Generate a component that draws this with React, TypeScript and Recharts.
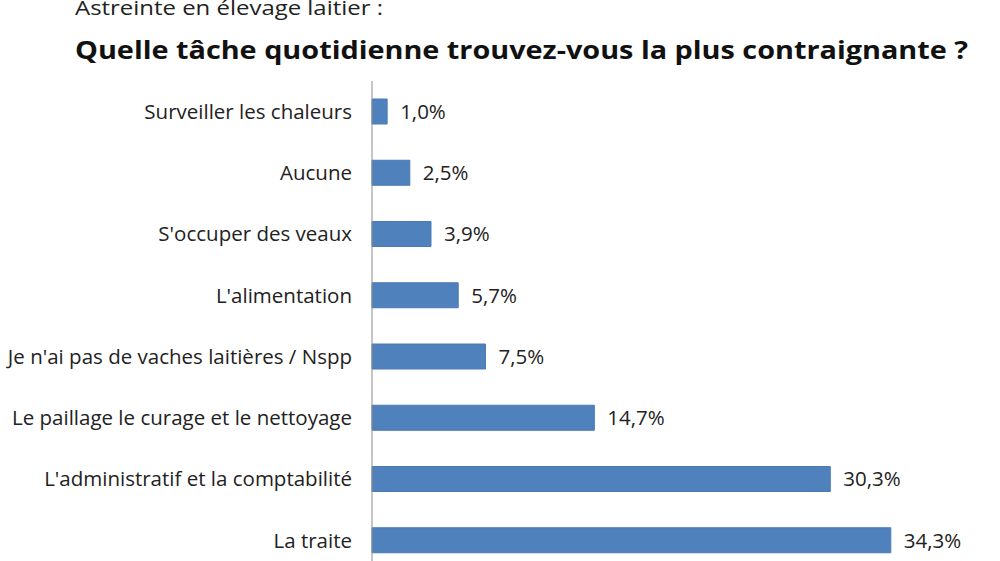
import React from "react";
import { BarChart, Bar, XAxis, YAxis, LabelList } from "recharts";

const categories = [
  "Surveiller les chaleurs",
  "Aucune",
  "S'occuper des veaux",
  "L'alimentation",
  "Je n'ai pas de vaches laitières / Nspp",
  "Le paillage le curage et le nettoyage",
  "L'administratif et la comptabilité",
  "La traite",
];
const shares = [1.0, 2.5, 3.9, 5.7, 7.5, 14.7, 30.3, 34.3];

const data = categories.map((name, i) => ({ name, value: shares[i] }));

const FONT = "Open Sans, 'Noto Sans', sans-serif";

const fmt = (v: number) => v.toFixed(1).replace(".", ",") + "%";

export default function App() {
  return (
    <div
      style={{
        position: "absolute",
        left: 0,
        top: 0,
        width: 1000,
        height: 561,
        overflow: "hidden",
        background: "#fff",
      }}
    >
      <svg width={1000} height={80} style={{ position: "absolute", left: 0, top: 0 }}>
        <text
          x={75}
          y={15}
          fontFamily={FONT}
          fontSize={20}
          fill="#222"
          textLength={308}
          lengthAdjust="spacingAndGlyphs"
        >
          Astreinte en élevage laitier :
        </text>
        <text
          x={75}
          y={59}
          fontFamily={FONT}
          fontSize={25}
          fontWeight="bold"
          fill="#111"
          textLength={893}
          lengthAdjust="spacingAndGlyphs"
        >
          Quelle tâche quotidienne trouvez-vous la plus contraignante ?
        </text>
      </svg>
      <div style={{ position: "absolute", left: 0, top: 0 }}>
        <BarChart
          layout="vertical"
          width={1000}
          height={600}
          data={data}
          margin={{ top: 81, right: 23, bottom: 29, left: 0 }}
        >
          <XAxis type="number" domain={[0, 40]} hide />
          <YAxis
            type="category"
            dataKey="name"
            width={372}
            tickLine={false}
            tickSize={0}
            tickMargin={20}
            axisLine={{ stroke: "#8c8c8c" }}
            tick={{ fill: "#222", fontSize: 20.5, fontFamily: FONT }}
            interval={0}
          />
          <Bar
            dataKey="value"
            fill="#4f81bd"
            stroke="#4a7ab3"
            barSize={25}
            isAnimationActive={false}
          >
            <LabelList
              dataKey="value"
              position="right"
              offset={13}
              formatter={(v: number) => fmt(v)}
              style={{ fill: "#222", fontSize: 20.5, fontFamily: FONT }}
            />
          </Bar>
        </BarChart>
      </div>
    </div>
  );
}
